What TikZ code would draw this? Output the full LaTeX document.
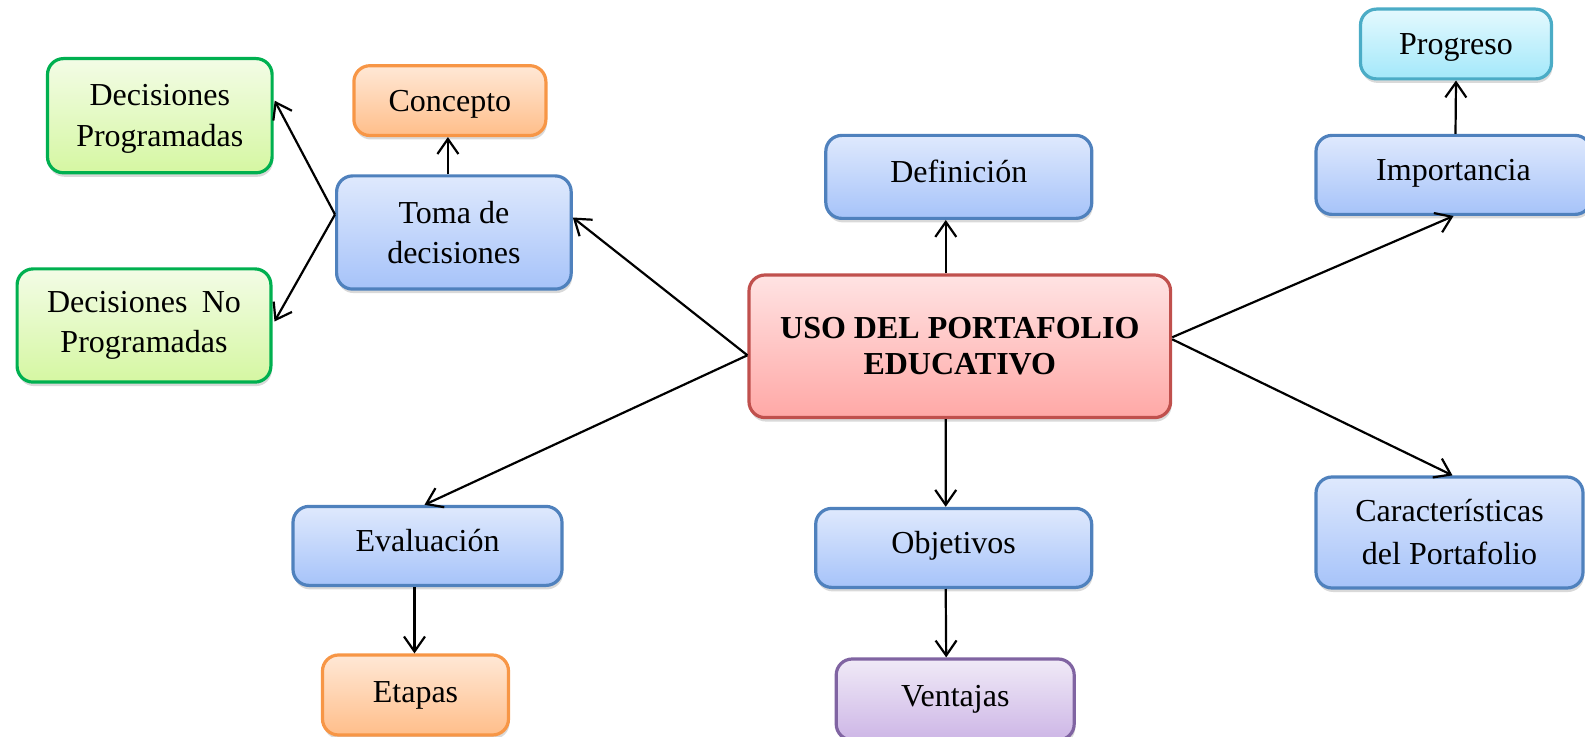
\documentclass[tikz,border=0pt]{standalone}
\usepackage{fontspec}
\setmainfont{Liberation Serif}
\usetikzlibrary{calc,shadows,arrows.meta}
\definecolor{blueB}{HTML}{4F81BD}\definecolor{blueT}{HTML}{DFE9FD}\definecolor{blueL}{HTML}{A6C3F9}
\definecolor{redB}{HTML}{C0504D}\definecolor{redT}{HTML}{FFE3E3}\definecolor{redL}{HTML}{FFA8A6}
\definecolor{greenB}{HTML}{00B050}\definecolor{greenT}{HTML}{F3FCE6}\definecolor{greenL}{HTML}{D5F7A2}
\definecolor{orangeB}{HTML}{F79646}\definecolor{orangeT}{HTML}{FFE8D6}\definecolor{orangeL}{HTML}{FFBE8A}
\definecolor{cyanB}{HTML}{4BACC6}\definecolor{cyanT}{HTML}{E4F9FE}\definecolor{cyanL}{HTML}{A3E8FA}
\definecolor{purpleB}{HTML}{8064A2}\definecolor{purpleT}{HTML}{F0EAF7}\definecolor{purpleL}{HTML}{CDB6E6}
\begin{document}
\begin{tikzpicture}[x=0.5pt,y=-0.5pt,
  box/.style={rounded corners=8pt, line width=1.6pt, align=center, inner sep=0pt,
    font=\fontsize{16}{20.3}\selectfont,
    drop shadow={shadow xshift=0.5pt, shadow yshift=-2pt, opacity=0.3}},
  bluebox/.style={box, draw=blueB, top color=blueT, bottom color=blueL},
  redbox/.style={box, draw=redB, top color=redT, bottom color=redL},
  greenbox/.style={box, draw=greenB, top color=greenT, bottom color=greenL},
  orangebox/.style={box, draw=orangeB, top color=orangeT, bottom color=orangeL},
  cyanbox/.style={box, draw=cyanB, top color=cyanT, bottom color=cyanL},
  purplebox/.style={box, draw=purpleB, top color=purpleT, bottom color=purpleL},
  raised/.style={text height=11pt, text depth=5pt},
  lowered/.style={text depth=0pt},
  arr/.style={line width=1.1pt, -{Straight Barb[length=7.5pt,width=10.5pt,line width=1.1pt]}}
]
\useasboundingbox (0,0) rectangle (1585,737);

\node[greenbox, lowered, minimum width=112.3pt, minimum height=57.1pt] (decprog) at (159.8,115.7) {Decisiones\\Programadas};
\node[orangebox, lowered, minimum width=96pt, minimum height=34.9pt] (concepto) at (449.9,100.6) {Concepto};
\node[bluebox, minimum width=117.3pt, minimum height=56.6pt] (toma) at (453.9,232.5) {Toma de\\decisiones};
\node[greenbox, minimum width=126.9pt, minimum height=56.6pt] (decnoprog) at (144,325.5) {Decisiones\hspace{0.45em}No\\Programadas};
\node[bluebox, raised, minimum width=133pt, minimum height=41.5pt] (definicion) at (958.8,176.9) {Definición};
\node[cyanbox, lowered, minimum width=95.5pt, minimum height=34.9pt] (progreso) at (1456,44) {Progreso};
\node[bluebox, raised, minimum width=137.5pt, minimum height=39.5pt] (importancia) at (1453.5,174.9) {Importancia};
\node[redbox, minimum width=210.8pt, minimum height=71.3pt, font=\fontsize{16}{17.7}\selectfont\bfseries] (uso) at (959.8,346.3) {USO DEL PORTAFOLIO\\EDUCATIVO};
\node[bluebox, minimum width=133.5pt, minimum height=55.5pt, font=\fontsize{16}{21.5}\selectfont] (caract) at (1449.5,532.5) {Características\\del Portafolio};
\node[bluebox, raised, minimum width=134.5pt, minimum height=39.5pt] (evaluacion) at (427.5,545.9) {Evaluación};
\node[orangebox, minimum width=93pt, minimum height=40pt] (etapas) at (415.5,695) {Etapas};
\node[bluebox, raised, minimum width=138pt, minimum height=39.5pt] (objetivos) at (953.7,547.9) {Objetivos};
\node[purplebox, minimum width=119pt, minimum height=40.5pt] (ventajas) at (955.2,699.5) {Ventajas};

\draw[arr] ($(uso.west)+(0,9)$) -- ($(toma.east)+(0,-15)$);
\draw[arr] ($(uso.west)+(0,9)$) -- ($(evaluacion.north)+(-3,0)$);
\draw[arr] ($(uso.north)+(-14,0)$) -- ($(definicion.south)+(-13,0)$);
\draw[arr] ($(uso.south)+(-14,0)$) -- ($(objetivos.north)+(-8,0)$);
\draw[arr] ($(uso.east)+(0,-9)$) -- (importancia.south);
\draw[arr] ($(uso.east)+(0,-7)$) -- ($(caract.north)+(3,0)$);
\draw[arr] ($(toma.north)+(-6,0)$) -- ($(concepto.south)+(-2,0)$);
\draw[arr] ($(toma.west)+(0,-18)$) -- ($(decprog.east)+(1,-15)$);
\draw[arr] ($(toma.west)+(0,-18)$) -- ($(decnoprog.east)+(2,-4)$);
\draw[arr] ($(evaluacion.south)+(-13,0)$) -- ($(etapas.north)+(-1,0)$);
\draw[arr] ($(objetivos.south)+(-8,0)$) -- ($(ventajas.north)+(-9,0)$);
\draw[arr] ($(importancia.north)+(2,0)$) -- (progreso.south);
\end{tikzpicture}
\end{document}
